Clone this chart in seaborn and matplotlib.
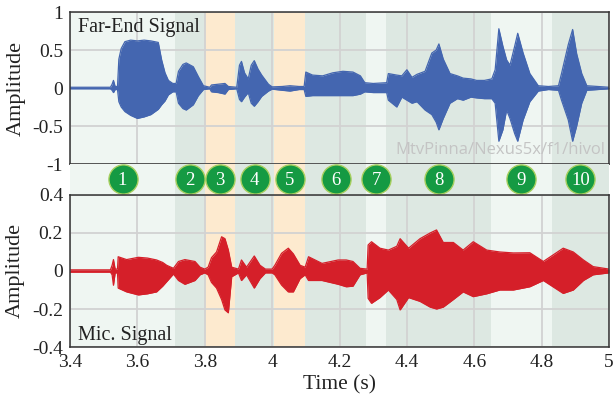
import numpy as np
import pandas as pd
import matplotlib
matplotlib.use("Agg")
import matplotlib.pyplot as plt
from matplotlib.ticker import FormatStrFormatter
import seaborn as sns

# envelope of the far-end waveform (time in s, upper / lower amplitude)
far_t = [3.40, 3.52, 3.525, 3.529, 3.534, 3.541, 3.545, 3.552, 3.563, 3.58, 3.60, 3.62, 3.64,
         3.662, 3.672, 3.682, 3.692, 3.705, 3.715, 3.722, 3.735, 3.745, 3.766, 3.781, 3.796,
         3.815, 3.82, 3.84, 3.86, 3.87, 3.895, 3.903, 3.909, 3.918, 3.929, 3.938, 3.947, 3.958,
         3.969, 3.989, 4.00, 4.03, 4.053, 4.08, 4.095, 4.10, 4.12, 4.15, 4.18, 4.21, 4.24, 4.262,
         4.275, 4.30, 4.34, 4.345, 4.37, 4.385, 4.40, 4.415, 4.43, 4.454, 4.474, 4.487, 4.495,
         4.508, 4.528, 4.55, 4.567, 4.59, 4.607, 4.63, 4.652, 4.662, 4.673, 4.685, 4.696, 4.706,
         4.72, 4.729, 4.745, 4.765, 4.79, 4.82, 4.85, 4.859, 4.879, 4.892, 4.904, 4.919, 4.934, 5.00]
far_hi = [0.01, 0.01, 0.05, 0.10, 0.02, 0.02, 0.38, 0.52, 0.61, 0.63, 0.62, 0.63, 0.62,
          0.60, 0.37, 0.20, 0.10, 0.06, 0.06, 0.22, 0.31, 0.33, 0.28, 0.15, 0.03,
          0.01, 0.04, 0.05, 0.06, 0.02, 0.01, 0.30, 0.35, 0.20, 0.12, 0.30, 0.36, 0.25,
          0.17, 0.05, 0.015, 0.02, 0.03, 0.02, 0.02, 0.21, 0.17, 0.16, 0.20, 0.22, 0.21, 0.16,
          0.07, 0.06, 0.07, 0.19, 0.17, 0.16, 0.24, 0.14, 0.18, 0.22, 0.46, 0.50, 0.58,
          0.38, 0.19, 0.16, 0.13, 0.12, 0.10, 0.10, 0.12, 0.24, 0.78, 0.55, 0.37, 0.30,
          0.55, 0.72, 0.46, 0.19, 0.03, 0.02, 0.03, 0.19, 0.57, 0.77, 0.45, 0.19, 0.03, 0.01]
far_lo = [-0.01, -0.01, -0.03, -0.06, -0.02, -0.02, -0.18, -0.25, -0.31, -0.36, -0.40, -0.38, -0.35,
          -0.28, -0.22, -0.17, -0.09, -0.05, -0.05, -0.20, -0.27, -0.29, -0.22, -0.10, -0.02,
          -0.01, -0.05, -0.06, -0.08, -0.02, -0.01, -0.15, -0.18, -0.12, -0.06, -0.20, -0.24, -0.18,
          -0.11, -0.04, -0.015, -0.03, -0.04, -0.02, -0.02, -0.11, -0.10, -0.10, -0.10, -0.10, -0.10, -0.08,
          -0.05, -0.06, -0.06, -0.16, -0.25, -0.12, -0.16, -0.20, -0.18, -0.29, -0.35, -0.45, -0.55,
          -0.40, -0.20, -0.14, -0.16, -0.12, -0.13, -0.14, -0.14, -0.20, -0.70, -0.55, -0.29, -0.40,
          -0.60, -0.70, -0.42, -0.18, -0.04, -0.02, -0.03, -0.16, -0.42, -0.70, -0.50, -0.20, -0.03, -0.01]

# envelope of the microphone waveform
mic_t = [3.40, 3.52, 3.525, 3.529, 3.534, 3.541, 3.543, 3.568, 3.603, 3.63, 3.657, 3.675, 3.687,
         3.707, 3.722, 3.741, 3.771, 3.786, 3.80, 3.81, 3.82, 3.835, 3.85, 3.86, 3.87, 3.88,
         3.90, 3.909, 3.924, 3.947, 3.964, 3.98, 4.00, 4.008, 4.028, 4.048, 4.063, 4.083, 4.098,
         4.108, 4.148, 4.196, 4.22, 4.24, 4.261, 4.282, 4.285, 4.295, 4.32, 4.345, 4.37, 4.38,
         4.405, 4.439, 4.469, 4.488, 4.508, 4.538, 4.567, 4.597, 4.637, 4.676, 4.716, 4.765,
         4.805, 4.864, 4.894, 4.924, 4.953, 5.00]
mic_hi = [0.006, 0.006, 0.03, 0.06, 0.01, 0.01, 0.075, 0.06, 0.072, 0.068, 0.058, 0.045, 0.03,
          0.014, 0.05, 0.06, 0.05, 0.02, 0.01, 0.02, 0.07, 0.10, 0.18, 0.17, 0.11, 0.02,
          0.01, 0.058, 0.02, 0.079, 0.03, 0.01, 0.01, 0.03, 0.093, 0.12, 0.09, 0.03, 0.02,
          0.075, 0.04, 0.058, 0.058, 0.05, 0.014, 0.01, 0.137, 0.154, 0.12, 0.11, 0.13, 0.17,
          0.12, 0.17, 0.20, 0.216, 0.15, 0.15, 0.11, 0.154, 0.11, 0.10, 0.095, 0.096,
          0.05, 0.12, 0.10, 0.058, 0.023, 0.01]
mic_lo = [-0.006, -0.006, -0.02, -0.075, -0.01, -0.01, -0.09, -0.11, -0.126, -0.12, -0.11, -0.08, -0.056,
          -0.016, -0.05, -0.07, -0.05, -0.02, -0.01, -0.02, -0.06, -0.09, -0.15, -0.205, -0.22, -0.03,
          -0.01, -0.05, -0.02, -0.09, -0.04, -0.01, -0.01, -0.02, -0.074, -0.11, -0.11, -0.04, -0.02,
          -0.05, -0.05, -0.07, -0.083, -0.08, -0.02, -0.01, -0.144, -0.17, -0.14, -0.10, -0.15, -0.205,
          -0.14, -0.16, -0.19, -0.20, -0.19, -0.15, -0.11, -0.135, -0.12, -0.10, -0.10, -0.083,
          -0.05, -0.118, -0.10, -0.05, -0.02, -0.01]

# segments
seg_edges = [3.4, 3.712, 3.80, 3.89, 4.006, 4.098, 4.28, 4.338, 4.65, 4.83, 5.0]
seg_kind = ["light", "dark", "orange", "dark", "orange", "dark", "light", "dark", "light", "dark"]
seg_labels = ["1", "2", "3", "4", "5", "6", "7", "8", "9", "10"]
seg_colors = {"light": "#eff6f2", "dark": "#dde8e2", "orange": "#fdeacf"}

far = pd.DataFrame({"t": far_t, "hi": far_hi, "lo": far_lo})
mic = pd.DataFrame({"t": mic_t, "hi": mic_hi, "lo": mic_lo})

sns.set_style("white")
plt.rcParams["font.family"] = ["Liberation Serif", "DejaVu Serif"]
plt.rcParams["axes.unicode_minus"] = False

fig = plt.figure(figsize=(6.13, 3.98), dpi=100)
ax1 = fig.add_axes([0.1142, 0.5879, 0.8793, 0.3819])
axb = fig.add_axes([0.1142, 0.5101, 0.8793, 0.0778])
ax2 = fig.add_axes([0.1142, 0.1281, 0.8793, 0.382])


def shade(ax):
    for i, kind in enumerate(seg_kind):
        ax.axvspan(seg_edges[i], seg_edges[i + 1], color=seg_colors[kind], lw=0, zorder=0)


for ax, df, col, ylim, yt in [(ax1, far, "#4466b0", (-1, 1), [-1, -0.5, 0, 0.5, 1]),
                              (ax2, mic, "#d51f29", (-0.4, 0.4), [-0.4, -0.2, 0, 0.2, 0.4])]:
    shade(ax)
    ax.fill_between(df["t"], df["lo"], df["hi"], color=col, lw=0, zorder=3)
    sns.lineplot(data=df, x="t", y="hi", ax=ax, color=col, lw=0.9, zorder=3)
    sns.lineplot(data=df, x="t", y="lo", ax=ax, color=col, lw=0.9, zorder=3)
    ax.set_xlim(3.4, 5.0)
    ax.set_ylim(*ylim)
    ax.set_yticks(yt)
    ax.set_xticks([3.4, 3.6, 3.8, 4.0, 4.2, 4.4, 4.6, 4.8, 5.0])
    ax.yaxis.set_major_formatter(FormatStrFormatter("%g"))
    ax.xaxis.set_major_formatter(FormatStrFormatter("%g"))
    ax.grid(True, color="#d2d2d2", lw=1.3, zorder=1)
    ax.set_axisbelow(True)
    ax.tick_params(length=0, labelsize=14, pad=5, colors="#222222")
    ax.set_ylabel("Amplitude", fontsize=16, color="#222222", labelpad=5)
    ax.set_xlabel("")
    for s in ax.spines.values():
        s.set_color("#333333")
        s.set_linewidth(1.1)
        s.set_zorder(5)

ax1.set_xticklabels([])
ax2.set_xlabel("Time (s)", fontsize=15.5, color="#222222", labelpad=3)
ax1.text(0.015, 0.895, "Far-End Signal", transform=ax1.transAxes, fontsize=14.5,
         va="center", ha="left", color="#222222", zorder=6)
ax2.text(0.015, 0.075, "Mic. Signal", transform=ax2.transAxes, fontsize=14.5,
         va="center", ha="left", color="#222222", zorder=6)
ax1.text(0.993, 0.09, "MtvPinna/Nexus5x/f1/hivol", transform=ax1.transAxes, fontsize=12,
         va="center", ha="right", color="#c4c4c4", family="Open Sans", zorder=6)

# band with numbered markers
shade(axb)
mids = [(seg_edges[i] + seg_edges[i + 1]) / 2 for i in range(len(seg_labels))]
marks = pd.DataFrame({"x": mids, "y": [0.5] * len(mids)})
sns.scatterplot(data=marks, x="x", y="y", ax=axb, s=440, color="#159a43",
                edgecolor="#a6cf5e", linewidth=1.0, zorder=3, legend=False)
for x, lab in zip(mids, seg_labels):
    axb.text(x, 0.47, lab, ha="center", va="center", color="white", fontsize=13.5, zorder=4)
axb.set_xlim(3.4, 5.0)
axb.set_ylim(0, 1)
axb.axis("off")

fig.savefig("out.png", dpi=100)
